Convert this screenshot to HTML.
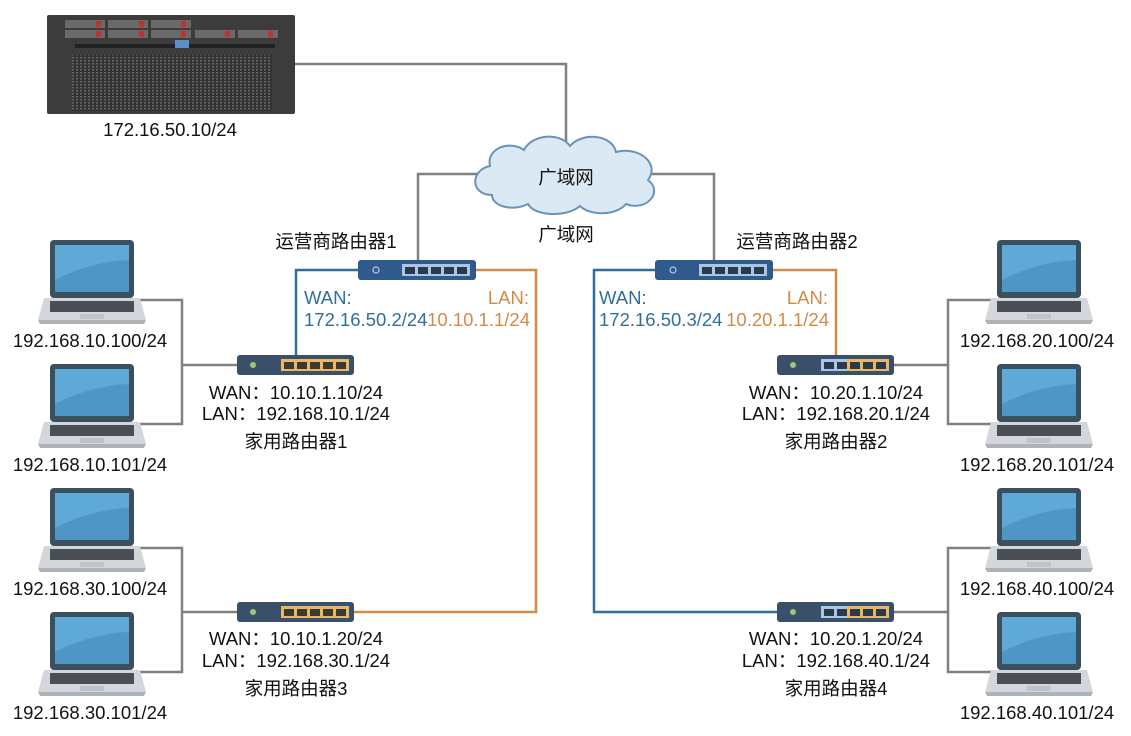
<!DOCTYPE html>
<html><head><meta charset="utf-8"><style>
body{margin:0;background:#fff;}
svg{display:block;}
text{font-family:"Liberation Sans","Noto Sans CJK SC",sans-serif;font-size:18.5px;fill:#111;}
</style></head><body>
<svg width="1131" height="736" viewBox="0 0 1131 736" xmlns="http://www.w3.org/2000/svg">
<defs>
<pattern id="grill" width="4" height="3" patternUnits="userSpaceOnUse"><rect width="4" height="3" fill="#333"/><rect width="2" height="1.5" fill="#666"/></pattern>
<g id="lap">
 <rect x="0" y="0" width="84" height="58" rx="4" fill="#3b4f5e"/>
 <rect x="5" y="5" width="74" height="47" fill="#5fa9d6"/>
 <path d="M5 40 Q40 22 79 20 L79 52 L5 52Z" fill="#4e96c4"/>
 <path d="M-6 58 L90 58 L96 80 L-12 80Z" fill="#d3d7db"/>
 <path d="M-12 80 L96 80 L94 84 L-10 84Z" fill="#aeb3b8"/>
 <rect x="0" y="61" width="84" height="11" fill="#4a4f55"/>
 <rect x="30" y="74" width="24" height="5" fill="#bfc4c9"/>
</g>
<g id="isp">
 <rect x="0" y="0" width="118" height="20" rx="3" fill="#2f5a8e"/>
 <circle cx="18" cy="10" r="3" fill="none" stroke="#bcd" stroke-width="1.2"/>
 <rect x="44" y="4" width="68" height="12" fill="#a9c6e6"/>
 <g fill="#2b3a4a"><rect x="47" y="7" width="10" height="7"/><rect x="60" y="7" width="10" height="7"/><rect x="73" y="7" width="10" height="7"/><rect x="86" y="7" width="10" height="7"/><rect x="99" y="7" width="10" height="7"/></g>
</g>
<g id="home">
 <rect x="0" y="0" width="117" height="20" rx="3" fill="#3a4f6a"/>
 <circle cx="16" cy="10" r="3" fill="#9ac87a"/>
 <rect x="44" y="4" width="68" height="12" fill="#e9b866"/>
 <g fill="#3a3a30"><rect x="47" y="7" width="10" height="7"/><rect x="60" y="7" width="10" height="7"/><rect x="73" y="7" width="10" height="7"/><rect x="86" y="7" width="10" height="7"/><rect x="99" y="7" width="10" height="7"/></g>
</g>
<g id="home2">
 <rect x="0" y="0" width="117" height="20" rx="3" fill="#3a4f6a"/>
 <circle cx="16" cy="10" r="3" fill="#9ac87a"/>
 <rect x="44" y="4" width="26" height="12" fill="#a9c6e6"/>
 <rect x="70" y="4" width="42" height="12" fill="#e9b866"/>
 <g fill="#2b3a4a"><rect x="47" y="7" width="10" height="7"/><rect x="60" y="7" width="10" height="7"/><rect x="73" y="7" width="10" height="7"/><rect x="86" y="7" width="10" height="7"/><rect x="99" y="7" width="10" height="7"/></g>
</g>
</defs>

<g fill="none" stroke="#808080" stroke-width="2.5">
 <path d="M295 64 H566 V142"/>
 <path d="M484 174 H418 V260"/>
 <path d="M652 174 H714 V260"/>
 <path d="M137 300 H182 V424 H137 M182 365 H237"/>
 <path d="M137 548 H182 V672 H137 M182 612 H237"/>
 <path d="M992 300 H948 V424 H992 M948 365 H894"/>
 <path d="M992 548 H948 V672 H992 M948 612 H894"/>
</g>
<g fill="none" stroke-width="2.5">
 <path d="M358 270 H296 V355" stroke="#2f6f9e"/>
 <path d="M476 270 H536 V612 H354" stroke="#d48a45"/>
 <path d="M655 270 H594 V612 H777" stroke="#2f6f9e"/>
 <path d="M773 270 H836 V355" stroke="#d48a45"/>
</g>

<!-- server -->
<rect x="47" y="15" width="248" height="99" rx="2" fill="#3c3c3c"/>
<g fill="#6a6a6a">
 <rect x="65" y="20" width="40" height="8"/><rect x="108" y="20" width="40" height="8"/><rect x="151" y="20" width="40" height="8"/>
 <rect x="65" y="30" width="40" height="8"/><rect x="108" y="30" width="40" height="8"/><rect x="151" y="30" width="40" height="8"/><rect x="195" y="30" width="40" height="8"/><rect x="238" y="30" width="40" height="8"/>
</g>
<g fill="#b33"><rect x="96" y="21" width="5" height="6"/><rect x="139" y="21" width="5" height="6"/><rect x="181" y="21" width="5" height="6"/><rect x="96" y="31" width="5" height="6"/><rect x="139" y="31" width="5" height="6"/><rect x="181" y="31" width="5" height="6"/><rect x="225" y="31" width="5" height="6"/><rect x="268" y="31" width="5" height="6"/></g>
<rect x="75" y="44" width="200" height="4" fill="#222"/>
<rect x="175" y="40" width="14" height="8" fill="#5b8fc7"/>
<rect x="72" y="55" width="200" height="56" fill="url(#grill)"/>
<text x="170" y="136" text-anchor="middle">172.16.50.10/24</text>

<!-- cloud -->
<path d="M492 195 C470 195 470 170 490 166 C486 148 510 140 524 150 C532 134 560 132 570 146 C582 132 612 134 616 152 C640 146 660 164 648 180 C664 192 646 212 626 204 C616 216 590 216 580 206 C566 218 534 216 528 204 C512 212 492 206 492 195Z" fill="#dbe9f5" stroke="#6a93b8" stroke-width="2"/>
<text x="566" y="184" text-anchor="middle" font-size="20">广域网</text>
<text x="566" y="241" text-anchor="middle" font-size="20">广域网</text>

<text x="336" y="248" text-anchor="middle">运营商路由器1</text>
<use href="#isp" x="358" y="260"/>
<text x="797" y="248" text-anchor="middle">运营商路由器2</text>
<use href="#isp" x="655" y="260"/>

<text x="304" y="304" style="fill:#2f6f9e">WAN:</text>
<text x="304" y="326" style="fill:#2f6f9e">172.16.50.2/24</text>
<text x="529" y="304" text-anchor="end" style="fill:#d48a45">LAN:</text>
<text x="530" y="326" text-anchor="end" style="fill:#d48a45">10.10.1.1/24</text>
<text x="599" y="304" style="fill:#2f6f9e">WAN:</text>
<text x="599" y="326" style="fill:#2f6f9e">172.16.50.3/24</text>
<text x="828" y="304" text-anchor="end" style="fill:#d48a45">LAN:</text>
<text x="829" y="326" text-anchor="end" style="fill:#d48a45">10.20.1.1/24</text>

<use href="#home" x="237" y="355"/>
<text x="296" y="399" text-anchor="middle">WAN：10.10.1.10/24</text>
<text x="296" y="420" text-anchor="middle">LAN：192.168.10.1/24</text>
<text x="296" y="448" text-anchor="middle">家用路由器1</text>

<use href="#home" x="237" y="602"/>
<text x="296" y="645" text-anchor="middle">WAN：10.10.1.20/24</text>
<text x="296" y="667" text-anchor="middle">LAN：192.168.30.1/24</text>
<text x="296" y="695" text-anchor="middle">家用路由器3</text>

<use href="#home2" x="777" y="355"/>
<text x="836" y="399" text-anchor="middle">WAN：10.20.1.10/24</text>
<text x="836" y="420" text-anchor="middle">LAN：192.168.20.1/24</text>
<text x="836" y="448" text-anchor="middle">家用路由器2</text>

<use href="#home2" x="777" y="602"/>
<text x="836" y="645" text-anchor="middle">WAN：10.20.1.20/24</text>
<text x="836" y="667" text-anchor="middle">LAN：192.168.40.1/24</text>
<text x="836" y="695" text-anchor="middle">家用路由器4</text>

<use href="#lap" x="50" y="240"/><text x="90" y="347" text-anchor="middle">192.168.10.100/24</text>
<use href="#lap" x="50" y="364"/><text x="90" y="471" text-anchor="middle">192.168.10.101/24</text>
<use href="#lap" x="50" y="488"/><text x="90" y="595" text-anchor="middle">192.168.30.100/24</text>
<use href="#lap" x="50" y="612"/><text x="90" y="719" text-anchor="middle">192.168.30.101/24</text>
<use href="#lap" x="997" y="240"/><text x="1037" y="347" text-anchor="middle">192.168.20.100/24</text>
<use href="#lap" x="997" y="364"/><text x="1037" y="471" text-anchor="middle">192.168.20.101/24</text>
<use href="#lap" x="997" y="488"/><text x="1037" y="595" text-anchor="middle">192.168.40.100/24</text>
<use href="#lap" x="997" y="612"/><text x="1037" y="719" text-anchor="middle">192.168.40.101/24</text>
</svg>
</body></html>
